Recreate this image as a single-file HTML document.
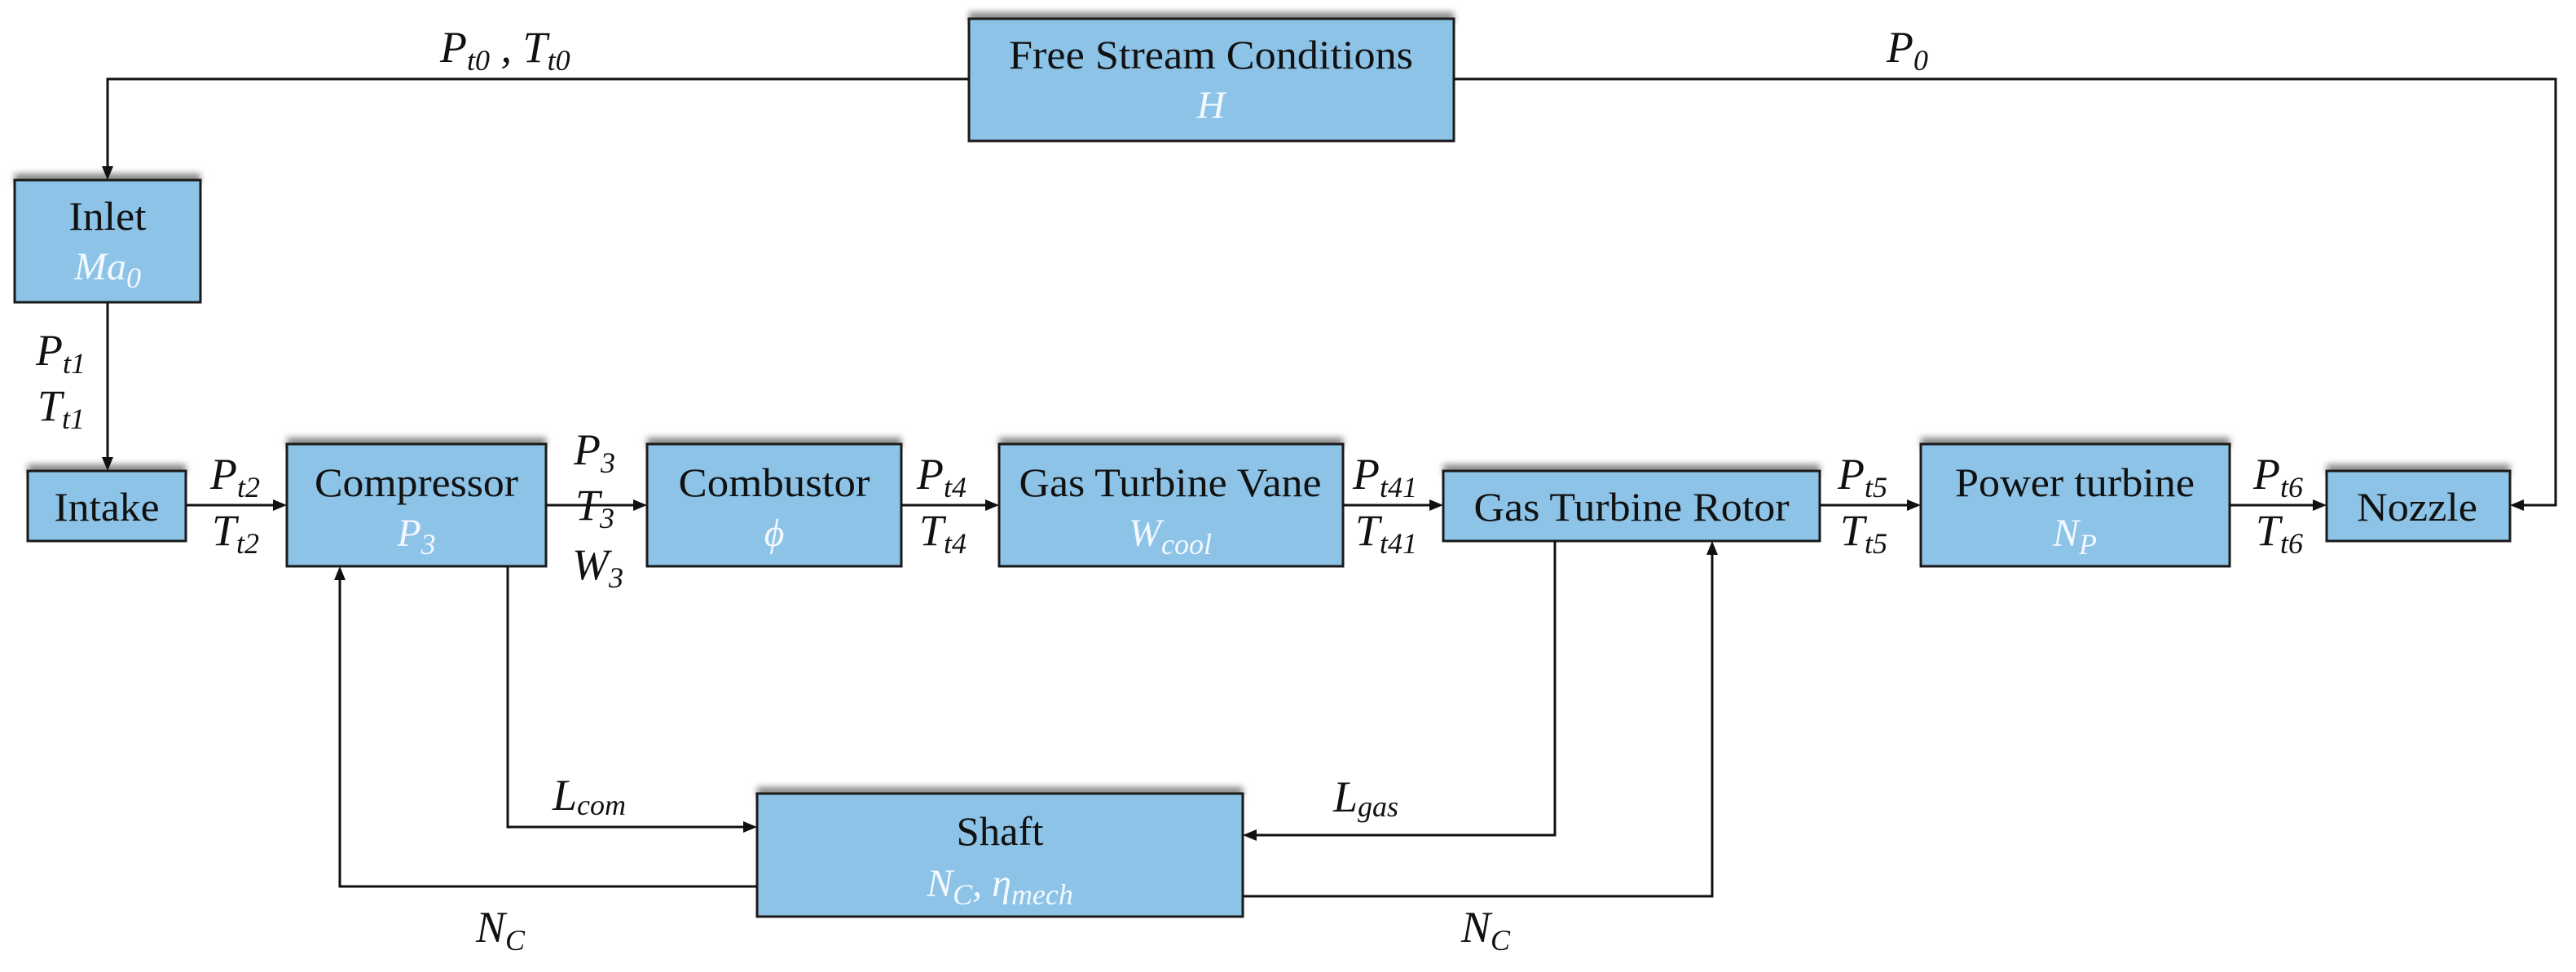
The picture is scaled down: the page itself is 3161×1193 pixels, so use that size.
<!DOCTYPE html>
<html><head><meta charset="utf-8"><style>
html,body{margin:0;padding:0;background:#fff;}
svg{display:block;}
text{font-family:"Liberation Serif",serif;}
.t{font-size:50px;fill:#111;text-anchor:middle;}
.w{font-size:48px;fill:#f4f9ff;font-style:italic;text-anchor:middle;}
.l{font-size:54px;fill:#111;font-style:italic;}
.s{font-size:36px;}
</style></head><body>
<svg width="3161" height="1193" viewBox="0 0 3161 1193" xmlns="http://www.w3.org/2000/svg">
<defs>
<filter id="b" x="-10%" y="-100%" width="120%" height="300%"><feGaussianBlur stdDeviation="4"/></filter>
</defs>
<g fill="#888" filter="url(#b)">
<rect x="1189" y="15" width="595" height="12"/>
<rect x="18" y="213" width="228" height="12"/>
<rect x="34" y="570" width="194" height="12"/>
<rect x="352" y="537" width="318" height="12"/>
<rect x="794" y="537" width="312" height="12"/>
<rect x="1226" y="537" width="422" height="12"/>
<rect x="1771" y="570" width="462" height="12"/>
<rect x="2357" y="537" width="379" height="12"/>
<rect x="2855" y="570" width="225" height="12"/>
<rect x="929" y="966" width="596" height="12"/>
</g>
<g fill="#8DC3E7" stroke="#1a1a1a" stroke-width="3">
<rect x="1189" y="23" width="595" height="150"/>
<rect x="18" y="221" width="228" height="150"/>
<rect x="34" y="578" width="194" height="86"/>
<rect x="352" y="545" width="318" height="150"/>
<rect x="794" y="545" width="312" height="150"/>
<rect x="1226" y="545" width="422" height="150"/>
<rect x="1771" y="578" width="462" height="86"/>
<rect x="2357" y="545" width="379" height="150"/>
<rect x="2855" y="578" width="225" height="86"/>
<rect x="929" y="974" width="596" height="151"/>
</g>
<g stroke="#111" stroke-width="3" fill="none">
<polyline points="1189,97 132,97 132,206"/>
<polyline points="1784,97 3136,97 3136,620 3095,620"/>
<line x1="132" y1="371" x2="132" y2="563"/>
<line x1="228" y1="620" x2="337" y2="620"/>
<line x1="670" y1="620" x2="779" y2="620"/>
<line x1="1106" y1="620" x2="1211" y2="620"/>
<line x1="1648" y1="620" x2="1756" y2="620"/>
<line x1="2233" y1="620" x2="2342" y2="620"/>
<line x1="2736" y1="620" x2="2840" y2="620"/>
<polyline points="623,695 623,1015 914,1015"/>
<polyline points="929,1088 417,1088 417,710"/>
<polyline points="1908,664 1908,1025 1540,1025"/>
<polyline points="1525,1100 2101,1100 2101,679"/>
</g>
<g fill="#111">
<polygon points="132,221 125,204 139,204"/>
<polygon points="132,578 125,561 139,561"/>
<polygon points="352,620 335,613 335,627"/>
<polygon points="794,620 777,613 777,627"/>
<polygon points="1226,620 1209,613 1209,627"/>
<polygon points="1771,620 1754,613 1754,627"/>
<polygon points="2357,620 2340,613 2340,627"/>
<polygon points="2855,620 2838,613 2838,627"/>
<polygon points="3080,620 3097,613 3097,627"/>
<polygon points="929,1015 912,1008 912,1022"/>
<polygon points="417,695 410,712 424,712"/>
<polygon points="1525,1025 1542,1018 1542,1032"/>
<polygon points="2101,664 2094,681 2108,681"/>
</g>
<text class="t" x="1486" y="84" textLength="496" lengthAdjust="spacingAndGlyphs">Free Stream Conditions</text>
<text class="w" x="1486" y="145">H</text>
<text class="t" x="132" y="282" textLength="95" lengthAdjust="spacingAndGlyphs">Inlet</text>
<text class="w" x="132" y="343">Ma<tspan class="s" dy="10">0</tspan></text>
<text class="t" x="131" y="639" textLength="129" lengthAdjust="spacingAndGlyphs">Intake</text>
<text class="t" x="511" y="609" textLength="250" lengthAdjust="spacingAndGlyphs">Compressor</text>
<text class="w" x="511" y="670">P<tspan class="s" dy="10">3</tspan></text>
<text class="t" x="950" y="609" textLength="235" lengthAdjust="spacingAndGlyphs">Combustor</text>
<text class="w" x="950" y="670">ϕ</text>
<text class="t" x="1436" y="609" textLength="371" lengthAdjust="spacingAndGlyphs">Gas Turbine Vane</text>
<text class="w" x="1436" y="670">W<tspan class="s" dy="10">cool</tspan></text>
<text class="t" x="2002" y="639" textLength="387" lengthAdjust="spacingAndGlyphs">Gas Turbine Rotor</text>
<text class="t" x="2546" y="609" textLength="294" lengthAdjust="spacingAndGlyphs">Power turbine</text>
<text class="w" x="2546" y="670">N<tspan class="s" dy="10">P</tspan></text>
<text class="t" x="2966" y="639" textLength="148" lengthAdjust="spacingAndGlyphs">Nozzle</text>
<text class="t" x="1227" y="1037" textLength="107" lengthAdjust="spacingAndGlyphs">Shaft</text>
<text class="w" x="1227" y="1100">N<tspan class="s" dy="10">C</tspan><tspan dy="-10">, η</tspan><tspan class="s" dy="10">mech</tspan></text>
<text class="l" x="540" y="76">P<tspan class="s" dy="10">t0</tspan><tspan dy="-10"> , T</tspan><tspan class="s" dy="10">t0</tspan></text>
<text class="l" x="2315" y="76">P<tspan class="s" dy="10">0</tspan></text>
<text class="l" x="44" y="448">P<tspan class="s" dy="10">t1</tspan></text>
<text class="l" x="46" y="516">T<tspan class="s" dy="10">t1</tspan></text>
<text class="l" x="258" y="600">P<tspan class="s" dy="10">t2</tspan></text>
<text class="l" x="260" y="669">T<tspan class="s" dy="10">t2</tspan></text>
<text class="l" x="704" y="570">P<tspan class="s" dy="10">3</tspan></text>
<text class="l" x="706" y="638">T<tspan class="s" dy="10">3</tspan></text>
<text class="l" x="702" y="711">W<tspan class="s" dy="10">3</tspan></text>
<text class="l" x="1125" y="600">P<tspan class="s" dy="10">t4</tspan></text>
<text class="l" x="1128" y="669">T<tspan class="s" dy="10">t4</tspan></text>
<text class="l" x="1660" y="600">P<tspan class="s" dy="10">t41</tspan></text>
<text class="l" x="1663" y="669">T<tspan class="s" dy="10">t41</tspan></text>
<text class="l" x="2255" y="600">P<tspan class="s" dy="10">t5</tspan></text>
<text class="l" x="2258" y="669">T<tspan class="s" dy="10">t5</tspan></text>
<text class="l" x="2765" y="600">P<tspan class="s" dy="10">t6</tspan></text>
<text class="l" x="2768" y="669">T<tspan class="s" dy="10">t6</tspan></text>
<text class="l" x="678" y="994">L<tspan class="s" dy="6">com</tspan></text>
<text class="l" x="1636" y="996">L<tspan class="s" dy="6">gas</tspan></text>
<text class="l" x="584" y="1156">N<tspan class="s" dy="10">C</tspan></text>
<text class="l" x="1793" y="1156">N<tspan class="s" dy="10">C</tspan></text>
</svg>
</body></html>
